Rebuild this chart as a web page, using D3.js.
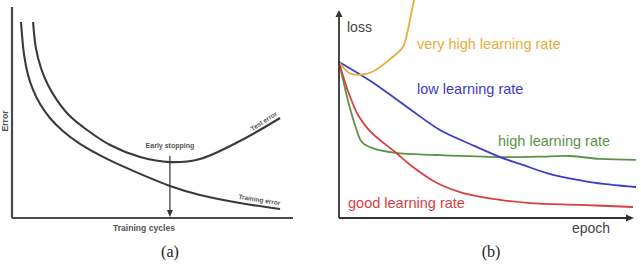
<!DOCTYPE html>
<html>
<head>
<meta charset="utf-8">
<script src="https://cdn.jsdelivr.net/npm/d3@7"></script>
<style>
html,body{margin:0;padding:0;background:#fff;}
svg{display:block;}
</style>
</head>
<body>
<svg id="chart" width="641" height="267"></svg>
<script>
// ---------- Panel (a) data ----------
const aTrainX = [3.2, 4.3, 5.7, 7.5, 10.0, 13.5, 18.1, 24.2, 33.8, 45.6, 56.2, 66.9, 81.1, 95.4];
const aTrainY = [92.9, 77.3, 67.8, 60.7, 54.0, 47.4, 41.2, 35.1, 28.0, 20.9, 15.2, 10.9, 7.1, 4.3];
const aTestX  = [7.5, 8.5, 10.3, 12.8, 16.0, 20.6, 26.7, 34.9, 45.6, 56.2, 66.9, 81.1, 95.4];
const aTestY  = [92.9, 80.6, 71.1, 63.0, 55.9, 48.3, 41.7, 34.6, 28.9, 26.5, 28.0, 36.5, 47.4];
const aEarlyStop = 56.2;
const aLabels = {x: "Training cycles", y: "Error", early: "Early stopping", test: "Test error", train: "Training error", caption: "(a)"};

// ---------- Panel (b) data ----------
const bVeryHighX = [0, 3.4, 6.7, 11.1, 17.2, 21.5, 23.2, 24.2, 25.3, 26.0];
const bVeryHighY = [75, 69.7, 68.8, 70.2, 76.4, 82.2, 90.4, 97.6, 104.8, 108];
const bLowX  = [0, 11.1, 22.9, 34.0, 44.1, 54.2, 60.9, 72.1, 84.5, 100];
const bLowY  = [75, 65.4, 53.4, 42.3, 35.6, 29.3, 26.0, 20.7, 17.3, 14.9];
const bHighX = [0, 2.0, 3.4, 5.7, 7.7, 11.1, 18.9, 33.0, 54.2, 67.3, 77.8, 87.9, 100];
const bHighY = [75, 62.5, 54.3, 43.3, 36.5, 33.7, 31.3, 30.3, 29.3, 29.5, 29.8, 28.4, 27.9];
const bGoodX = [0, 1.35, 3.4, 6.4, 10.4, 18.9, 24.9, 33.0, 41.8, 54.2, 64.3, 81.1, 99.0];
const bGoodY = [75, 68.3, 59.6, 49.5, 41.8, 31.7, 24.5, 16.8, 12.0, 8.7, 7.2, 6.3, 5.3];
const bSeriesNames = ["very high learning rate", "low learning rate", "high learning rate", "good learning rate"];
const bColors = ["#e8ac3c", "#3c3cc8", "#5a9448", "#d8403f"];
const bAxisLabels = {x: "epoch", y: "loss", caption: "(b)"};

const svg = d3.select("#chart");
const zip = (xs, ys) => xs.map((x, i) => [x, ys[i]]);

// ================= Panel (a) =================
{
  const x = d3.scaleLinear().domain([0, 100]).range([12, 293]);
  const y = d3.scaleLinear().domain([0, 100]).range([218, 7]);
  const g = svg.append("g");
  const axisColor = "#4a4a4a";

  const line = d3.line().x(d => x(d[0])).y(d => y(d[1])).curve(d3.curveCatmullRom.alpha(0.5));

  g.append("path").attr("d", line(zip(aTrainX, aTrainY)))
    .attr("fill", "none").attr("stroke", "#3a3a3a").attr("stroke-width", 2.1);
  g.append("path").attr("d", line(zip(aTestX, aTestY)))
    .attr("fill", "none").attr("stroke", "#3a3a3a").attr("stroke-width", 2.1);

  // axes (no ticks)
  g.append("line").attr("x1", x(0)).attr("x2", x(0)).attr("y1", y(100)).attr("y2", y(0))
    .attr("stroke", axisColor).attr("stroke-width", 2.2);
  g.append("line").attr("x1", x(0)).attr("x2", x(100)).attr("y1", y(0)).attr("y2", y(0))
    .attr("stroke", axisColor).attr("stroke-width", 2.2);

  // early stopping arrow
  const minY = 29.5;
  g.append("line").attr("x1", x(aEarlyStop)).attr("x2", x(aEarlyStop))
    .attr("y1", y(minY)).attr("y2", y(0) - 6)
    .attr("stroke", "#333").attr("stroke-width", 1.2);
  const ax = x(aEarlyStop), ay = y(0) - 1;
  g.append("path").attr("d", `M${ax - 3},${ay - 7}L${ax + 3},${ay - 7}L${ax},${ay}Z`).attr("fill", "#333");

  g.append("text").attr("x", x(aEarlyStop)).attr("y", 148).attr("text-anchor", "middle")
    .attr("font-family", "Liberation Sans, Arial, sans-serif").attr("font-size", 7).attr("font-weight", "bold")
    .attr("fill", "#555").text(aLabels.early);

  g.append("text").attr("transform", "translate(265,123) rotate(-33)").attr("text-anchor", "middle")
    .attr("font-family", "Liberation Sans, Arial, sans-serif").attr("font-size", 6.5).attr("font-weight", "bold")
    .attr("fill", "#555").text(aLabels.test);
  g.append("text").attr("transform", "translate(259,202) rotate(9)").attr("text-anchor", "middle")
    .attr("font-family", "Liberation Sans, Arial, sans-serif").attr("font-size", 6.5).attr("font-weight", "bold")
    .attr("fill", "#555").text(aLabels.train);

  g.append("text").attr("x", 144).attr("y", 231).attr("text-anchor", "middle")
    .attr("font-family", "Liberation Sans, Arial, sans-serif").attr("font-size", 8.6).attr("font-weight", "bold")
    .attr("fill", "#555").text(aLabels.x);
  g.append("text").attr("transform", "translate(7.5,121) rotate(-90)").attr("text-anchor", "middle")
    .attr("font-family", "Liberation Sans, Arial, sans-serif").attr("font-size", 8.6).attr("font-weight", "bold")
    .attr("fill", "#555").text(aLabels.y);

  g.append("text").attr("x", 170).attr("y", 257).attr("text-anchor", "middle")
    .attr("font-family", "Liberation Serif, Times New Roman, serif").attr("font-size", 16)
    .attr("fill", "#222").text(aLabels.caption);
}

// ================= Panel (b) =================
{
  const x = d3.scaleLinear().domain([0, 100]).range([339, 636]);
  const y = d3.scaleLinear().domain([0, 100]).range([218, 10]);
  const g = svg.append("g");
  const axisColor = "#333";

  const line = d3.line().x(d => x(d[0])).y(d => y(d[1])).curve(d3.curveCatmullRom.alpha(0.5));
  const series = [zip(bVeryHighX, bVeryHighY), zip(bLowX, bLowY), zip(bHighX, bHighY), zip(bGoodX, bGoodY)];
  // draw order: green, red, blue, yellow
  [2, 3, 1, 0].forEach(i => {
    g.append("path").attr("d", line(series[i]))
      .attr("fill", "none").attr("stroke", bColors[i]).attr("stroke-width", 1.8);
  });

  // axes with arrows
  g.append("line").attr("x1", x(0)).attr("x2", x(0)).attr("y1", y(100) + 6).attr("y2", y(0))
    .attr("stroke", axisColor).attr("stroke-width", 1.8);
  g.append("path").attr("d", `M${x(0) - 3.5},${y(100) + 7}L${x(0) + 3.5},${y(100) + 7}L${x(0)},${y(100)}Z`).attr("fill", axisColor);
  g.append("line").attr("x1", x(0)).attr("x2", 627).attr("y1", y(0)).attr("y2", y(0))
    .attr("stroke", axisColor).attr("stroke-width", 1.8);
  g.append("path").attr("d", `M626,${y(0) - 3.5}L626,${y(0) + 3.5}L634,${y(0)}Z`).attr("fill", axisColor);

  const font = "Liberation Sans, Arial, sans-serif";
  const labelPos = [[417, 49], [417, 94], [498, 146], [348, 208]];
  bSeriesNames.forEach((name, i) => {
    g.append("text").attr("x", labelPos[i][0]).attr("y", labelPos[i][1])
      .attr("font-family", font).attr("font-size", 14.5)
      .attr("fill", bColors[i]).text(name);
  });

  g.append("text").attr("x", 347).attr("y", 32).attr("font-family", font).attr("font-size", 14)
    .attr("fill", "#444").text(bAxisLabels.y);
  g.append("text").attr("x", 572).attr("y", 233).attr("font-family", font).attr("font-size", 14)
    .attr("fill", "#444").text(bAxisLabels.x);

  g.append("text").attr("x", 491).attr("y", 257).attr("text-anchor", "middle")
    .attr("font-family", "Liberation Serif, Times New Roman, serif").attr("font-size", 16)
    .attr("fill", "#222").text(bAxisLabels.caption);
}
</script>
</body>
</html>
